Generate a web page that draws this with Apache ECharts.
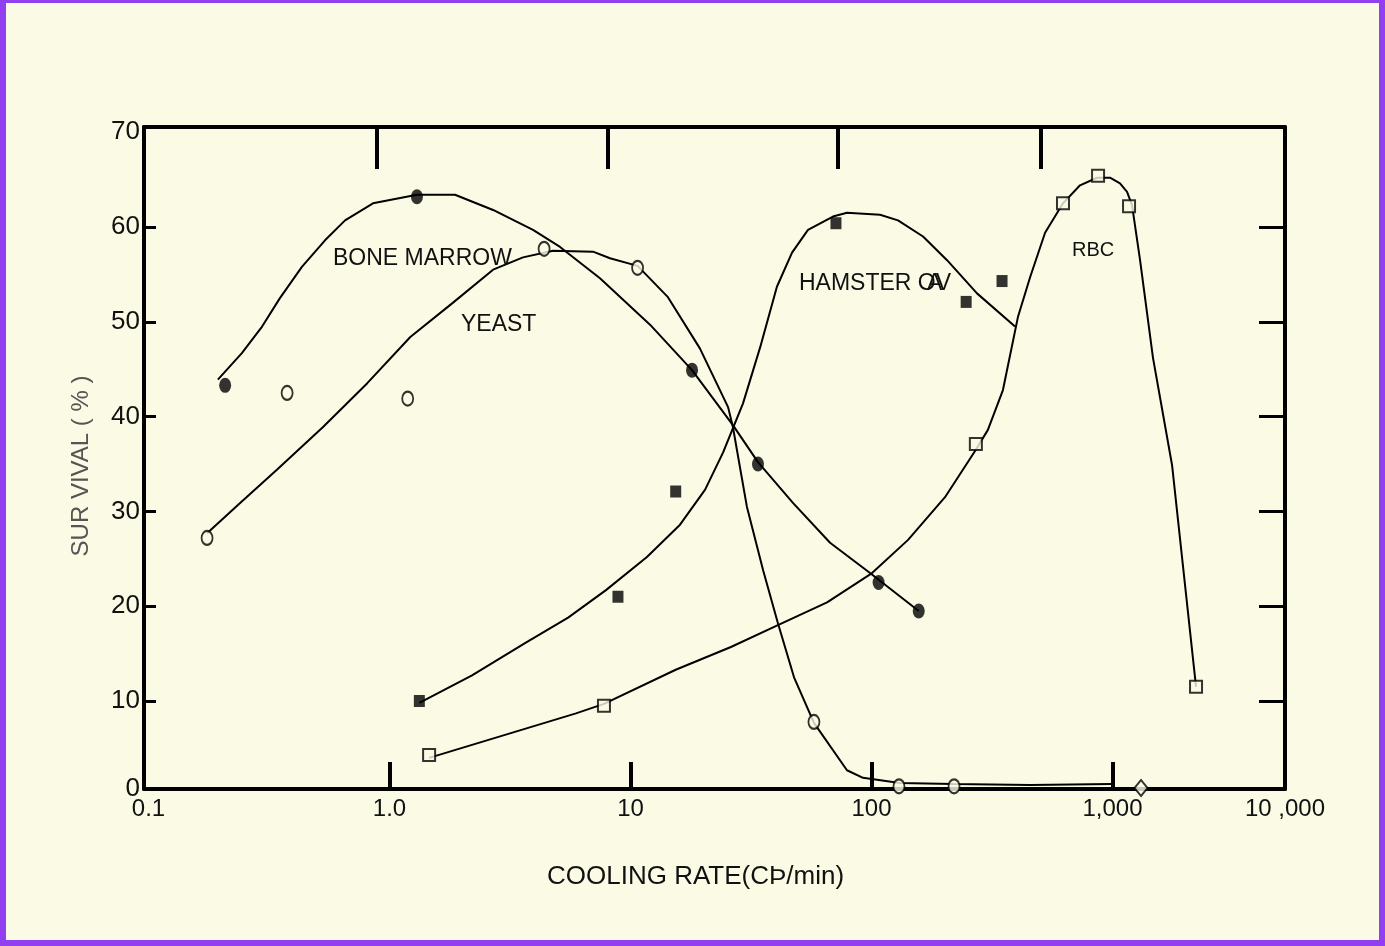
<!DOCTYPE html>
<html>
<head>
<meta charset="utf-8">
<script src="https://cdn.jsdelivr.net/npm/echarts@6/dist/echarts.min.js"></script>
<style>
  html, body { margin: 0; padding: 0; background: #FBFBE5; }
  #wrap { position: relative; width: 1385px; height: 946px; }
  #chart { position: absolute; left: 0; top: 0; width: 1385px; height: 946px; }
  #frame { position: absolute; left: 0; top: 0; width: 1385px; height: 946px; box-sizing: border-box;
           border-style: solid; border-color: #9040F0; border-width: 3px 6px 6px 6px; pointer-events: none; }
</style>
</head>
<body>
<div id="wrap"><div id="chart"></div><div id="frame"></div></div>
<script>
// ---- Data (cooling rate in °C/min, survival in %) ----
const boneMarrowPoints = [[0.208,43.3],[1.30,63.2],[18.0,44.9],[33.8,35.0],[107,22.5],[157,19.5]];
const boneMarrowCurve = [[0.194,43.9],[0.244,46.7],[0.296,49.5],[0.351,52.5],[0.433,55.8],[0.540,58.6],[0.654,60.7],[0.854,62.5],[1.30,63.4],[1.87,63.4],[2.69,61.8],[3.94,59.7],[5.10,57.9],[7.47,54.6],[12.05,49.7],[18.0,44.9],[26.6,39.1],[33.8,35.2],[47.2,30.9],[67.3,26.7],[98.6,23.5],[157,19.5]];

const yeastPoints = [[0.175,27.2],[0.376,42.5],[1.19,41.9],[4.38,57.7],[10.7,55.7],[57.7,7.8],[130,1.0],[220,1.0]];
const yeastDiamond = [[1313,0.82]];
const yeastCurve = [[0.175,27.7],[0.240,30.9],[0.341,34.4],[0.530,38.9],[0.807,43.5],[1.22,48.4],[1.83,52.0],[2.69,55.5],[3.58,56.8],[4.77,57.5],[6.99,57.4],[8.22,56.7],[10.7,55.9],[14.3,52.6],[19.4,47.2],[25.4,41.0],[26.6,38.9],[30.4,30.5],[35.5,23.8],[40.9,18.2],[47.7,12.5],[57.7,7.7],[79.1,2.7],[92.2,1.9],[131,1.35],[218,1.24],[455,1.14],[995,1.24]];

const hamsterPoints = [[1.33,10.0],[8.87,21.0],[15.4,32.1],[71.2,60.4],[247,52.1],[348,54.3]];
const hamsterCurve = [[1.33,9.8],[2.20,12.7],[3.65,16.1],[5.51,18.8],[7.91,21.7],[11.7,25.2],[16.05,28.6],[20.4,32.3],[24.2,36.2],[29.3,41.4],[34.5,47.3],[40.5,53.7],[46.8,57.3],[54.5,59.7],[69.2,61.1],[79.1,61.5],[108.5,61.3],[128.8,60.7],[163.6,59.0],[205.8,56.5],[274,53.0],[394,49.5]];

const rbcPoints = [[1.46,4.3],[7.76,9.5],[271,37.1],[623,62.5],[871,65.4],[1171,62.2],[2221,11.5]];
const rbcCurve = [[1.46,4.0],[5.94,8.7],[7.76,9.7],[15.4,13.3],[26.1,15.7],[40.9,18.0],[65.4,20.4],[100.5,23.5],[141.8,27.0],[201.8,31.5],[271,36.5],[304,38.6],[351,42.8],[405,50.5],[455,54.7],[525,59.4],[623,62.5],[733,64.4],[862,65.2],[976,65.2],[1074,64.6],[1149,63.7],[1205,62.3],[1301,56.5],[1472,46.2],[1766,34.9],[2221,11.5]];

// ---- Axes ----
const xMin = 0.0958, xMax = 5196;
const yMin = 0.72, yMax = 70.55;
const xLabelValues = [0.1, 1, 10, 100, 1000, 5196];
const xLabelTexts = ['0.1', '1.0', '10', '100', '1,000', '10 ,000'];
const xBottomTicks = [1, 10, 100, 1000];
const xTopTicks = [0.887, 8.07, 72.6, 505];
const yLabelValues = [0.72, 10, 20, 30, 40, 50, 60, 70];
const yLabelTexts = ['0', '10', '20', '30', '40', '50', '60', '70'];
const yTicks = [10, 20, 30, 40, 50, 60];

const BG = '#FBFBE5';
const FONT = '"Liberation Sans", Arial, sans-serif';

function nearestLabel(v, values, texts, isLog) {
  let best = 0, bd = Infinity;
  values.forEach((c, i) => {
    const d = isLog ? Math.abs(Math.log10(v) - Math.log10(c)) : Math.abs(v - c);
    if (d < bd) { bd = d; best = i; }
  });
  return texts[best];
}

const chart = echarts.init(document.getElementById('chart'), null, { renderer: 'canvas' });

const lineSeries = (data, z) => ({
  type: 'line', data, symbol: 'none', showSymbol: false, smooth: false,
  lineStyle: { color: '#000', width: 2 }, z: z || 2, silent: true
});

chart.setOption({
  animation: false,
  backgroundColor: BG,
  grid: { left: 144, right: 100, top: 127, bottom: 157 },
  xAxis: [
    {
      type: 'log', logBase: 10, min: xMin, max: xMax, position: 'bottom',
      axisLine: { show: true, onZero: false, lineStyle: { color: '#000', width: 4 } },
      axisTick: { show: true, inside: true, length: 27, customValues: xBottomTicks, lineStyle: { color: '#000', width: 4 } },
      minorTick: { show: false },
      splitLine: { show: false },
      axisLabel: {
        show: true, customValues: xLabelValues, margin: 8, color: '#111',
        fontSize: 24, fontFamily: FONT,
        formatter: v => nearestLabel(v, xLabelValues, xLabelTexts, true)
      }
    },
    {
      type: 'log', logBase: 10, min: xMin, max: xMax, position: 'top',
      axisLine: { show: true, onZero: false, lineStyle: { color: '#000', width: 4 } },
      axisTick: { show: true, inside: true, length: 42, customValues: xTopTicks, lineStyle: { color: '#000', width: 4 } },
      minorTick: { show: false },
      splitLine: { show: false },
      axisLabel: { show: false }
    }
  ],
  yAxis: [
    {
      type: 'value', min: yMin, max: yMax, position: 'left',
      axisLine: { show: true, onZero: false, lineStyle: { color: '#000', width: 4 } },
      axisTick: { show: true, inside: true, length: 12, customValues: yTicks, lineStyle: { color: '#000', width: 3 } },
      splitLine: { show: false },
      axisLabel: {
        show: true, customValues: yLabelValues, margin: 4, color: '#111',
        fontSize: 26, fontFamily: FONT,
        formatter: v => nearestLabel(v, yLabelValues, yLabelTexts, false)
      }
    },
    {
      type: 'value', min: yMin, max: yMax, position: 'right',
      axisLine: { show: true, onZero: false, lineStyle: { color: '#000', width: 4 } },
      axisTick: { show: true, inside: true, length: 26, customValues: yTicks, lineStyle: { color: '#000', width: 3 } },
      splitLine: { show: false },
      axisLabel: { show: false }
    }
  ],
  series: [
    lineSeries(boneMarrowCurve),
    lineSeries(yeastCurve),
    lineSeries(hamsterCurve),
    lineSeries(rbcCurve),
    { type: 'scatter', data: boneMarrowPoints, symbol: 'circle', symbolSize: [12, 15],
      itemStyle: { color: '#000' }, z: 5, silent: true },
    { type: 'scatter', data: yeastPoints, symbol: 'circle', symbolSize: [11, 14],
      itemStyle: { color: BG, borderColor: '#000', borderWidth: 2 }, z: 5, silent: true },
    { type: 'scatter', data: yeastDiamond, symbol: 'diamond', symbolSize: [13, 16],
      itemStyle: { color: BG, borderColor: '#000', borderWidth: 2 }, z: 5, silent: true },
    { type: 'scatter', data: hamsterPoints, symbol: 'rect', symbolSize: [11, 12],
      itemStyle: { color: '#000' }, z: 5, silent: true },
    { type: 'scatter', data: rbcPoints, symbol: 'rect', symbolSize: [12, 12],
      itemStyle: { color: BG, borderColor: '#000', borderWidth: 2 }, z: 5, silent: true }
  ],
  graphic: [
    { type: 'text', x: 81, y: 466, rotation: Math.PI / 2, z: 10,
      style: { text: 'SUR VIVAL ( % )', fill: '#555', font: '24px ' + FONT, align: 'center', verticalAlign: 'middle' } },
    { type: 'text', x: 333, y: 259, z: 10, style: { text: 'BONE MARROW', fill: '#111', font: '23px ' + FONT, verticalAlign: 'middle' } },
    { type: 'text', x: 461, y: 325, z: 10, style: { text: 'YEAST', fill: '#111', font: '23px ' + FONT, verticalAlign: 'middle' } },
    { type: 'text', x: 799, y: 284, z: 10, style: { text: 'HAMSTER OV', fill: '#111', font: '23px ' + FONT, verticalAlign: 'middle' } },
    { type: 'text', x: 927, y: 284, z: 10, style: { text: 'A', fill: '#111', font: '23px ' + FONT, verticalAlign: 'middle' } },
    { type: 'text', x: 1072, y: 250, z: 10, style: { text: 'RBC', fill: '#111', font: '20px ' + FONT, verticalAlign: 'middle' } },
    { type: 'text', x: 547, y: 877, z: 10, style: { text: 'COOLING RATE(CÞ/min)', fill: '#111', font: '26px ' + FONT, verticalAlign: 'middle' } }
  ]
});
</script>
</body>
</html>
